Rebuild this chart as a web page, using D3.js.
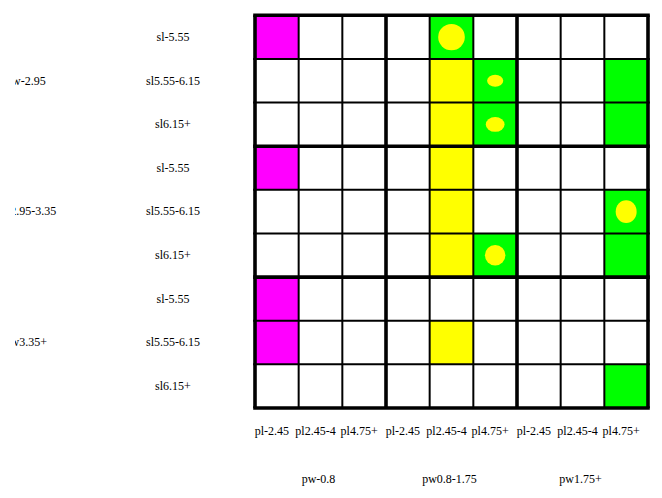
<!DOCTYPE html>
<html>
<head>
<meta charset="utf-8">
<script src="https://cdn.jsdelivr.net/npm/d3@7"></script>
<style>
  html, body { margin: 0; padding: 0; background: #fff; }
  svg { display: block; }
  text { font-family: "Liberation Serif", "Times New Roman", serif; font-size: 12px; fill: #000; }
</style>
</head>
<body>
<div id="chart"></div>
<script>
// ---- data ----
const swLabels = ["sw-2.95", "sw2.95-3.35", "sw3.35+"];
const slLabels = ["sl-5.55", "sl5.55-6.15", "sl6.15+"];
const pwLabels = ["pw-0.8", "pw0.8-1.75", "pw1.75+"];
const plLabels = ["pl-2.45", "pl2.45-4", "pl4.75+"];
const classNames = ["none", "setosa", "versicolor", "virginica"];
// class of each cell: rows = sw x sl, cols = pw x pl
const cellClass = [
  [1,0,0, 0,3,0, 0,0,0],
  [0,0,0, 0,2,3, 0,0,3],
  [0,0,0, 0,2,3, 0,0,3],
  [1,0,0, 0,2,0, 0,0,0],
  [0,0,0, 0,2,0, 0,0,3],
  [0,0,0, 0,2,3, 0,0,3],
  [1,0,0, 0,0,0, 0,0,0],
  [1,0,0, 0,2,0, 0,0,0],
  [0,0,0, 0,0,0, 0,0,3]
];
// minority markers: row, col, relative width / height (fraction of cell)
const dotRow = [0, 1, 2, 4, 5];
const dotCol = [4, 5, 5, 8, 5];
const dotW   = [0.61, 0.37, 0.43, 0.48, 0.47];
const dotH   = [0.60, 0.27, 0.34, 0.52, 0.47];

// ---- layout ----
const W = 662, H = 498;
const colors = { none: "#ffffff", setosa: "#ff00ff", versicolor: "#ffff00", virginica: "#00ff00" };

const rowKeys = [], colKeys = [];
swLabels.forEach(sw => slLabels.forEach(sl => rowKeys.push(sw + "|" + sl)));
pwLabels.forEach(pw => plLabels.forEach(pl => colKeys.push(pw + "|" + pl)));

const x = d3.scaleBand().domain(colKeys).range([255, 648]).padding(0);
const y = d3.scaleBand().domain(rowKeys).range([15.3, 408]).padding(0);
const xg = d3.scaleBand().domain(pwLabels).range([255, 648]);
const yg = d3.scaleBand().domain(swLabels).range([15.3, 408]);
const frac = d3.scaleLinear().domain([0, 1]).range([0, x.bandwidth()]);

const svg = d3.select("#chart").append("svg").attr("width", W).attr("height", H);

svg.append("defs").append("clipPath").attr("id", "leftclip")
  .append("rect").attr("x", 15).attr("y", 0).attr("width", W).attr("height", H);

// cells
const cells = [];
cellClass.forEach((row, i) => row.forEach((c, j) => cells.push({ r: rowKeys[i], c: colKeys[j], cls: classNames[c] })));
svg.append("g").selectAll("rect").data(cells).join("rect")
  .attr("x", d => x(d.c)).attr("y", d => y(d.r))
  .attr("width", x.bandwidth()).attr("height", y.bandwidth())
  .attr("fill", d => colors[d.cls]);

// markers
const dots = dotRow.map((r, i) => ({ r: rowKeys[r], c: colKeys[dotCol[i]], w: dotW[i], h: dotH[i] }));
svg.append("g").selectAll("ellipse").data(dots).join("ellipse")
  .attr("cx", d => x(d.c) + x.bandwidth() / 2)
  .attr("cy", d => y(d.r) + y.bandwidth() / 2)
  .attr("rx", d => frac(d.w) / 2)
  .attr("ry", d => frac(d.h) / 2)
  .attr("fill", "#ffff00");

// grid lines
const xEdges = colKeys.map(k => x(k)).concat([x.range()[1]]);
const yEdges = rowKeys.map(k => y(k)).concat([y.range()[1]]);
const gl = svg.append("g").attr("stroke", "#000");
gl.selectAll("line.v").data(xEdges).join("line").attr("class", "v")
  .attr("x1", d => d).attr("x2", d => d).attr("y1", y.range()[0]).attr("y2", y.range()[1])
  .attr("stroke-width", (d, i) => i % 3 === 0 ? 3.6 : 2);
gl.selectAll("line.h").data(yEdges).join("line").attr("class", "h")
  .attr("y1", d => d).attr("y2", d => d).attr("x1", x.range()[0] - 1.8).attr("x2", x.range()[1] + 1.8)
  .attr("stroke-width", (d, i) => i % 3 === 0 ? 3.6 : 2);

// row labels (inner)
svg.append("g").selectAll("text").data(rowKeys).join("text")
  .attr("x", 173)
  .attr("y", d => y(d) + y.bandwidth() / 2 + 3.8)
  .attr("text-anchor", "middle")
  .text(d => d.split("|")[1]);

// row group labels (outer), clipped at left like the reference
svg.append("g").attr("clip-path", "url(#leftclip)").selectAll("text").data(swLabels).join("text")
  .attr("x", 26.5)
  .attr("y", d => yg(d) + yg.bandwidth() / 2 + 3.8)
  .attr("text-anchor", "middle")
  .text(d => d);

// column labels (inner)
svg.append("g").selectAll("text").data(colKeys).join("text")
  .attr("x", d => x(d) + x.bandwidth() / 2 - 5)
  .attr("y", 435)
  .attr("text-anchor", "middle")
  .text(d => d.split("|")[1]);

// column group labels
svg.append("g").selectAll("text").data(pwLabels).join("text")
  .attr("x", d => xg(d) + xg.bandwidth() / 2 - 2)
  .attr("y", 483)
  .attr("text-anchor", "middle")
  .text(d => d);
</script>
</body>
</html>
